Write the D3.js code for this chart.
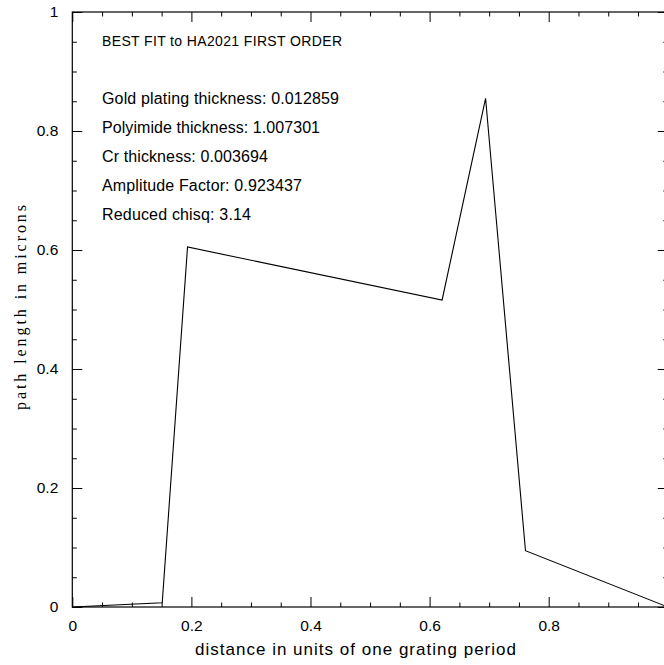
<!DOCTYPE html>
<html>
<head>
<meta charset="utf-8">
<script src="https://cdn.jsdelivr.net/npm/d3@7"></script>
<style>
  html, body { margin: 0; padding: 0; background: #fff; }
  svg { display: block; }
</style>
</head>
<body>
<script>
// Profile of the best-fit grating period
const xValues = [0, 0.151, 0.1935, 0.621, 0.694, 0.761, 1.0];
const yValues = [0, 0.007, 0.605, 0.516, 0.855, 0.0946, 0];
const xTickLabels = [0, 0.2, 0.4, 0.6, 0.8];
const yTickLabels = [0, 0.2, 0.4, 0.6, 0.8, 1];
const minorStep = 0.05;
const titleLine = "BEST FIT to HA2021 FIRST ORDER";
const fitLines = [
  "Gold plating thickness: 0.012859",
  "Polyimide thickness: 1.007301",
  "Cr thickness: 0.003694",
  "Amplitude Factor: 0.923437",
  "Reduced chisq: 3.14"
];

const W = 664, H = 665;
const plotLeft = 72.3, plotTop = 12, plotRight = 667.8, plotBottom = 607;

const svg = d3.select("body").append("svg")
  .attr("width", W).attr("height", H);

const x = d3.scaleLinear().domain([0, 1]).range([plotLeft, plotRight]);
const y = d3.scaleLinear().domain([0, 1]).range([plotBottom, plotTop]);

const font = "Liberation Sans, Arial, Helvetica, sans-serif";
const minorTicks = d3.range(0, 1 + 1e-9, minorStep).map(v => +v.toFixed(2));
const isMajor = v => Math.abs(v * 5 - Math.round(v * 5)) < 1e-6;

// Inward ticks on all four sides
function tickAxis(axisGen, transform, labelled) {
  const g = svg.append("g").attr("transform", transform);
  const majors = minorTicks.filter(isMajor);
  const minors = minorTicks.filter(v => !isMajor(v));
  g.append("g").call(axisGen(labelled).tickValues(majors).tickSize(-10).tickSizeOuter(0));
  g.append("g").call(axisGen(false).tickValues(minors).tickSize(-4.5).tickSizeOuter(0));
  g.selectAll(".domain").remove();
  g.selectAll("line").attr("stroke", "#000").attr("stroke-width", 1);
  return g;
}

const fmt = d3.format("");
tickAxis(lab => d3.axisBottom(x).tickFormat(lab ? (d => xTickLabels.includes(d) ? fmt(d) : "") : () => ""),
  `translate(0,${plotBottom})`, true)
  .selectAll("text").attr("font-family", font).attr("font-size", 15.5).attr("fill", "#000")
  .attr("y", 13);
tickAxis(() => d3.axisTop(x).tickFormat(() => ""), `translate(0,${plotTop})`, false);
tickAxis(lab => d3.axisLeft(y).tickFormat(lab ? (d => yTickLabels.includes(d) ? fmt(d) : "") : () => ""),
  `translate(${plotLeft},0)`, true)
  .selectAll("text").attr("font-family", font).attr("font-size", 15.5).attr("fill", "#000")
  .attr("x", -14);
tickAxis(() => d3.axisRight(y).tickFormat(() => ""), `translate(${plotRight},0)`, false);

// Frame
svg.append("rect")
  .attr("x", plotLeft).attr("y", plotTop)
  .attr("width", plotRight - plotLeft).attr("height", plotBottom - plotTop)
  .attr("fill", "none").attr("stroke", "#000").attr("stroke-width", 1.2);

// Profile line
const pts = xValues.map((v, i) => [v, yValues[i]]);
svg.append("path")
  .datum(pts)
  .attr("fill", "none")
  .attr("stroke", "#000")
  .attr("stroke-width", 1.1)
  .attr("d", d3.line().x(d => x(d[0])).y(d => y(d[1])));

// Axis titles
svg.append("text")
  .attr("x", 195).attr("y", 655)
  .attr("font-family", font).attr("font-size", 17)
  .attr("textLength", 321).attr("lengthAdjust", "spacing")
  .text("distance in units of one grating period");

svg.append("text")
  .attr("transform", `translate(26,410) rotate(-90)`)
  .attr("font-family", "Liberation Serif, Times New Roman, serif").attr("font-size", 16)
  .attr("textLength", 205).attr("lengthAdjust", "spacing")
  .text("path length in microns");

// Fit annotations
const annoWidths = [237, 218, 166, 200, 149];
svg.append("text")
  .attr("x", 102).attr("y", 46)
  .attr("font-family", font).attr("font-size", 14)
  .attr("textLength", 240).attr("lengthAdjust", "spacing")
  .text(titleLine);

svg.append("g").selectAll("text").data(fitLines).join("text")
  .attr("x", 102).attr("y", (d, i) => 104 + i * 29)
  .attr("font-family", font).attr("font-size", 16)
  .attr("textLength", (d, i) => annoWidths[i]).attr("lengthAdjust", "spacing")
  .text(d => d);
</script>
</body>
</html>
